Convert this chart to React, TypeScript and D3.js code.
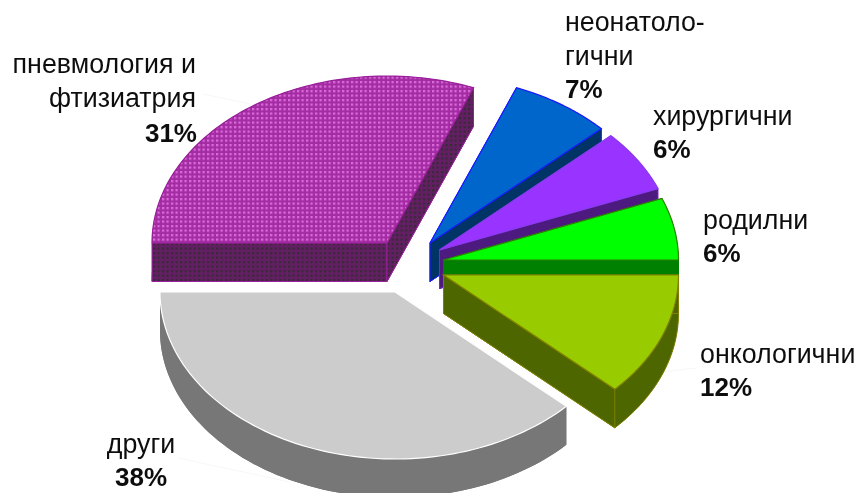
import React from "react";
import * as d3 from "d3";

const names = ["пневмология", "неонатологични", "хирургични", "родилни", "онкологични", "други"];
const shares = [31, 7, 6, 6, 12, 38];
const topFills = ["url(#topCheck)", "#0066cc", "#9933ff", "#00ff00", "#99cc00", "#cccccc"];
const wallFills = ["url(#wallCheck)", "#003366", "#4d1a80", "#008000", "#4d6600", "#777777"];
const strokes = ["#99209a", "#1a1aff", "#8a3cf0", "#2f7f00", "#808000", "#ffffff"];
const wallStrokes = ["#99209a", "#1a1aff", "#7a22cc", "#008000", "#808000", "none"];
const apexX = [387, 430, 439.5, 443.5, 443.5, 395];
const apexY = [243, 243, 250, 260, 275, 292];

const labelLines = [
  { x: 196, anchor: "end", rows: [["пневмология и", 73, false], ["фтизиатрия", 107, false], ["31%", 142, true]] },
  { x: 565, anchor: "start", rows: [["неонатоло-", 31, false], ["гични", 65, false], ["7%", 98, true]] },
  { x: 653, anchor: "start", rows: [["хирургични", 125, false], ["6%", 158, true]] },
  { x: 703, anchor: "start", rows: [["родилни", 229, false], ["6%", 262, true]] },
  { x: 700, anchor: "start", rows: [["онкологични", 363, false], ["12%", 396, true]] },
  { x: 141, anchor: "middle", rows: [["други", 453, false], ["38%", 486, true]] },
] as const;

const leaders = [
  [[203, 94], [250, 104]],
  [[178, 458], [290, 482]],
  [[697, 368], [660, 372]],
];

const RX = 235;
const RY = 167;
const DEPTH = 38.5;

const pie = d3
  .pie<number>()
  .sort(null)
  .startAngle(-Math.PI / 2)
  .endAngle((3 * Math.PI) / 2);
const slices = pie(shares);
const line = d3.line<[number, number]>();

const pointAt = (cx: number, cy: number, a: number): [number, number] => [
  cx + RX * Math.sin(a),
  cy - RY * Math.cos(a),
];

const arcPoints = (cx: number, cy: number, a0: number, a1: number) =>
  d3.range(0, 81).map((i) => pointAt(cx, cy, a0 + ((a1 - a0) * i) / 80));

export default function App() {
  return (
    <svg
      width={858}
      height={493}
      style={{ position: "absolute", left: 0, top: 0, background: "#fff" }}
      fontFamily="'Liberation Sans', Arial, sans-serif"
    >
      <defs>
        <pattern id="topCheck" width={4.5} height={4.5} patternUnits="userSpaceOnUse">
          <rect width={4.5} height={4.5} fill="#a32ca3" />
          <rect width={2.25} height={2.25} fill="#dc6cdc" />
        </pattern>
        <pattern id="wallCheck" width={4.5} height={4.5} patternUnits="userSpaceOnUse">
          <rect width={4.5} height={4.5} fill="#641f64" />
          <rect width={2.25} height={2.25} fill="#382a38" />
        </pattern>
        <filter id="soft" x="-5%" y="-5%" width="110%" height="110%">
          <feGaussianBlur stdDeviation={0.45} />
        </filter>
      </defs>

      {leaders.map((l, i) => (
        <path key={i} d={line(l as [number, number][]) ?? ""} stroke="#f7f7f7" fill="none" />
      ))}

      {slices.map((s, i) => {
        const cx = apexX[i];
        const cy = apexY[i];
        const top = arcPoints(cx, cy, s.startAngle, s.endAngle);
        const bottom = top.map(([x, y]) => [x, y + DEPTH] as [number, number]);
        const quad = (p: [number, number]) =>
          (line([[cx, cy], p, [p[0], p[1] + DEPTH], [cx, cy + DEPTH]]) ?? "") + "Z";
        const band = (line([...top, ...bottom.slice().reverse()]) ?? "") + "Z";
        const sector = (pts: [number, number][], y: number) =>
          (line([[cx, y], ...pts]) ?? "") + "Z";
        return (
          <g key={names[i]}>
            <path d={band} fill={wallFills[i]} />
            <path d={sector(bottom, cy + DEPTH)} fill={wallFills[i]} stroke={wallStrokes[i]} strokeWidth={1} />
            <path d={quad(top[0])} fill={wallFills[i]} stroke={wallStrokes[i]} strokeWidth={1} />
            <path d={quad(top[80])} fill={wallFills[i]} stroke={wallStrokes[i]} strokeWidth={1} />
            <path d={sector(top, cy)} fill={topFills[i]} stroke={strokes[i]} strokeWidth={1.2} />
          </g>
        );
      })}

      <g fill="#111" filter="url(#soft)">
        {labelLines.map((l, i) =>
          l.rows.map(([t, y, bold]) => (
            <text
              key={`${i}-${t}`}
              x={l.x + (bold && l.anchor === "end" ? 1 : 0)}
              y={y}
              textAnchor={l.anchor}
              fontWeight={bold ? 700 : 400}
              fontSize={bold ? 26 : 26.8}
            >
              {t}
            </text>
          ))
        )}
      </g>
    </svg>
  );
}
